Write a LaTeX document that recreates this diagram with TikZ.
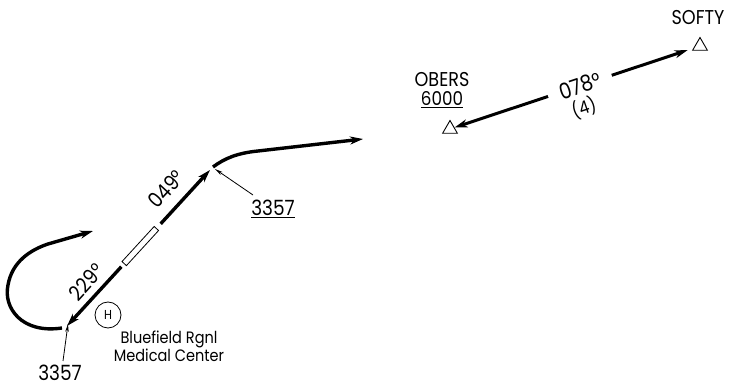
\documentclass[tikz,border=0pt]{standalone}
\usepackage{fontspec}
\setmainfont{Poppins}[FakeStretch=0.88]
\usetikzlibrary{arrows.meta,calc,shapes.geometric}
\begin{document}
\begin{tikzpicture}[x=1pt,y=-1pt,
  track/.style={line width=3.4pt},
  bigtip/.style={-{Stealth[length=13pt,width=8pt,inset=4pt]}},
  leader/.style={line width=0.8pt,-{Stealth[length=8pt,width=3.5pt]}},
  fixpt/.style={draw,line width=0.9pt,regular polygon,regular polygon sides=3,minimum size=17pt,inner sep=0pt},
  lbl/.style={inner sep=0pt,font=\fontsize{21}{23}\selectfont},
  small/.style={inner sep=0pt,font=\fontsize{16.5}{17}\selectfont,align=center}]
\useasboundingbox (0,0) rectangle (729,387);
% final approach course
\coordinate (s) at (67,326);
\coordinate (e) at (210,170);
\draw[track,bigtip] ($(s)!0.38!(e)$) -- (s);
\draw[track,bigtip] ($(s)!0.655!(e)$) -- (e);
\node[draw,line width=0.8pt,minimum width=47.6pt,minimum height=6pt,inner sep=0pt,rotate=47.5] (rwy) at ($(s)!0.5125!(e)$) {};
\node[lbl,rotate=47.5] (c049) at (166,189) {049°};
\node[lbl,rotate=47.5] (c229) at (86,282) {229°};
% hook
\coordinate (h0) at (62,328);
\coordinate (h1) at (93,231);
\draw[track,bigtip] (h0) .. controls (22,334) and (3,308) .. (8,285) .. controls (12,262) and (30,250) .. (48,244) -- (h1);
% upper track
\coordinate (u0) at (213,167);
\coordinate (u1) at (363,139);
\draw[track,bigtip] (u0) .. controls (225,158) and (238,153) .. (258,151) -- (u1);
% altitudes and leaders
\node[lbl] (alt1) at (273,209) {\underline{3357}};
\node[lbl] (alt2) at (60,373) {3357};
\coordinate (l1) at (253,195);
\coordinate (l1e) at (215,169);
\coordinate (l2) at (63,361);
\coordinate (l2e) at (68,324);
\draw[leader] (l1) -- (l1e);
\draw[leader] (l2) -- (l2e);
% heliport
\node[draw,circle,line width=0.8pt,minimum size=26pt,inner sep=0pt,font=\fontsize{13}{14}\selectfont] (heli) at (108,315) {H};
\node[small] (hosp) at (169,346) {Bluefield Rgnl\\Medical Center};
% fixes
\node[fixpt] (obers) at (450,129) {};
\node[fixpt] (softy) at (700,46) {};
\node[lbl,font=\fontsize{20}{22}\selectfont] (obersn) at (442,80) {OBERS};
\node[lbl,font=\fontsize{19}{21}\selectfont] (obersa) at (442,100) {\underline{6000}};
\node[lbl,font=\fontsize{20}{22}\selectfont] (softyn) at (698,18) {SOFTY};
\draw[track,line width=3pt,{Stealth[length=13pt,width=8pt,inset=4pt]}-{Stealth[length=13pt,width=8pt,inset=4pt]},shorten >=6pt] (obers) -- (softy)
  node[pos=0.525,sloped,fill=white,inner xsep=12pt,inner ysep=2pt,font=\fontsize{22}{24}\selectfont] (crs) {078°};
\node[lbl,rotate=19,font=\fontsize{18}{20}\selectfont] (dist) at (584,108) {(4)};
\end{tikzpicture}
\end{document}
